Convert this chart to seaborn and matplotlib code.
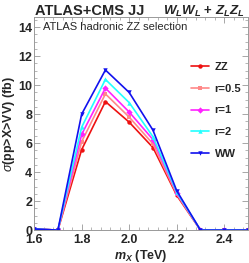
"""
ATLAS+CMS JJ: sigma(pp>X>VV) vs m_X for different ZZ/WW mixtures
"""

import numpy as np
import pandas as pd
import matplotlib
matplotlib.use("Agg")
import matplotlib.pyplot as plt
from matplotlib.ticker import MultipleLocator
import seaborn as sns

# mass points (TeV)
mass = [1.6, 1.7, 1.8, 1.9, 2.0, 2.1, 2.2, 2.3, 2.4, 2.5]

# cross sections (fb)
xs_zz = [0.08, 0.0, 5.55, 8.87, 7.45, 5.7, 2.4, 0.0, 0.0, 0.0]
xs_r05 = [0.08, 0.0, 6.1, 9.4, 7.8, 5.95, 2.48, 0.0, 0.0, 0.0]
xs_r1 = [0.08, 0.0, 6.6, 9.8, 8.15, 6.25, 2.55, 0.0, 0.0, 0.0]
xs_r2 = [0.08, 0.0, 7.1, 10.4, 8.8, 6.45, 2.62, 0.0, 0.0, 0.0]
xs_ww = [0.08, 0.0, 8.0, 11.05, 9.5, 6.9, 2.72, 0.0, 0.0, 0.0]

series_names = ["ZZ", "r=0.5", "r=1", "r=2", "WW"]
series_values = [xs_zz, xs_r05, xs_r1, xs_r2, xs_ww]
colors = ["#ee1111", "#ff8888", "#ff22ff", "#22ffff", "#1111ee"]
markers = ["o", "s", "D", "^", "v"]

df = pd.concat(
    [pd.DataFrame({"mass": mass, "xs": vals, "sample": name})
     for name, vals in zip(series_names, series_values)],
    ignore_index=True
)

sns.set_style("ticks")
plt.rcParams["font.family"] = ["Liberation Sans", "DejaVu Sans"]
plt.rcParams["mathtext.fontset"] = "custom"
plt.rcParams["mathtext.it"] = "Liberation Sans:italic"
plt.rcParams["mathtext.bf"] = "Liberation Sans:bold"
plt.rcParams["mathtext.bfit"] = "Liberation Sans:bold:italic"
plt.rcParams["mathtext.rm"] = "Liberation Sans"

fig = plt.figure(figsize=(2.49, 2.63), dpi=100)
ax = fig.add_axes([0.137, 0.125, 0.859, 0.81])

sns.lineplot(
    data=df, x="mass", y="xs", hue="sample", style="sample",
    hue_order=series_names, style_order=series_names,
    palette=colors, markers=markers, dashes=False,
    markersize=3.2, markeredgewidth=0, linewidth=1.2, ax=ax
)

ax.set_xlim(1.6, 2.5)
ax.set_ylim(0, 14.7)
ax.xaxis.set_major_locator(MultipleLocator(0.2))
ax.xaxis.set_minor_locator(MultipleLocator(0.04))
ax.yaxis.set_major_locator(MultipleLocator(2))
ax.yaxis.set_minor_locator(MultipleLocator(0.5))
ax.tick_params(which="both", direction="in", top=True, right=True,
               color="#999999", labelsize=9, pad=1.5)
ax.tick_params(axis="x", pad=2.5)
ax.tick_params(which="major", length=4, width=0.6)
ax.tick_params(which="minor", length=2, width=0.5)
for lab in ax.get_xticklabels() + ax.get_yticklabels():
    lab.set_fontweight("bold")
for sp in ax.spines.values():
    sp.set_color("#999999")
    sp.set_linewidth(0.7)

ax.set_xlabel(r"$\mathbfit{m_X}$ (TeV)", fontsize=9, fontweight="bold",
              labelpad=2)
ax.set_ylabel(r"$\sigma$(pp>X>VV) (fb)", fontsize=9, fontweight="bold",
              labelpad=1)

ax.text(0.04, 0.975, "ATLAS hadronic ZZ selection", transform=ax.transAxes,
        fontsize=8, va="top", ha="left")
fig.text(0.14, 0.943, "ATLAS+CMS JJ", fontsize=10.5, fontweight="bold",
         ha="left", va="baseline")
fig.text(0.985, 0.943, r"$\mathbfit{W_L W_L}$ + $\mathbfit{Z_L Z_L}$",
         fontsize=9.5, fontweight="bold", ha="right", va="baseline")

leg = ax.legend(loc="upper right", bbox_to_anchor=(1.0, 0.82), frameon=False,
                fontsize=8, handlelength=1.6, labelspacing=1.05,
                handletextpad=0.5, borderaxespad=0.2)
for t in leg.get_texts():
    t.set_fontweight("bold")

fig.savefig("out.png", dpi=100)
